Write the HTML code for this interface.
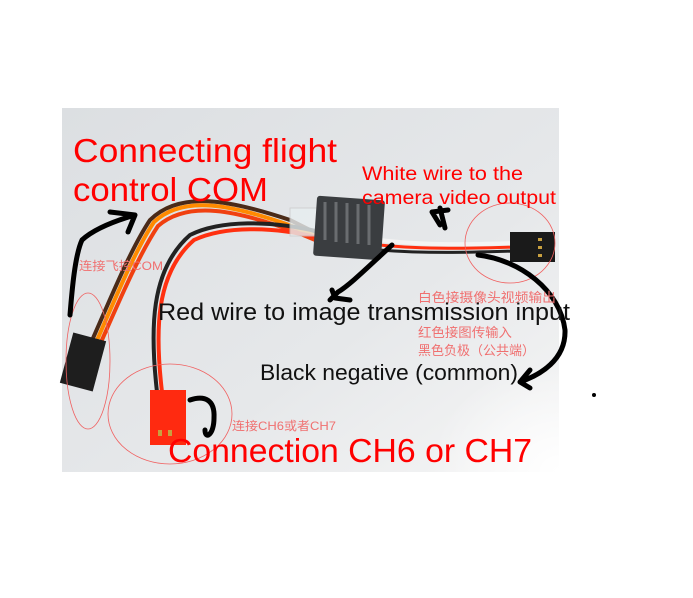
<!DOCTYPE html>
<html><head><meta charset="utf-8"><style>
html,body{margin:0;padding:0;background:#fff;width:693px;height:598px;overflow:hidden}
svg{display:block}
text{font-family:"Liberation Sans","Noto Sans CJK SC",sans-serif}
</style></head><body>
<svg width="693" height="598" viewBox="0 0 693 598" xmlns="http://www.w3.org/2000/svg">
<defs>
<linearGradient id="bg" x1="0" y1="0" x2="1" y2="1">
<stop offset="0" stop-color="#dcdfe2"/><stop offset="0.6" stop-color="#e6e8ea"/><stop offset="1" stop-color="#f6f6f6"/>
</linearGradient>
<radialGradient id="fade" cx="1" cy="1" r="0.5">
<stop offset="0" stop-color="#fff" stop-opacity="1"/><stop offset="1" stop-color="#fff" stop-opacity="0"/>
</radialGradient>
</defs>
<rect x="62" y="108" width="497" height="364" fill="url(#bg)"/>
<rect x="300" y="250" width="259" height="222" fill="url(#fade)"/>
<!-- wires -->
<path d="M90 345 C110 300 130 250 150 220 C180 190 230 200 290 220 L320 235" fill="none" stroke="#4a2a18" stroke-width="4"/>
<path d="M94 347 C114 302 134 252 154 222 C184 194 232 205 292 226 L320 238" fill="none" stroke="#ff8a00" stroke-width="4"/>
<path d="M98 349 C118 304 138 256 158 226 C188 200 236 210 296 232 L320 242" fill="none" stroke="#f04010" stroke-width="4"/>
<path d="M157 392 C150 330 150 270 190 235 C220 220 270 220 320 232" fill="none" stroke="#222" stroke-width="4"/>
<path d="M162 392 C155 332 155 274 194 240 C224 226 272 226 320 238" fill="none" stroke="#ff3010" stroke-width="4"/>
<path d="M380 240 C430 246 480 244 515 243" fill="none" stroke="#f4f4f4" stroke-width="4"/>
<path d="M380 245 C430 250 480 248 515 247" fill="none" stroke="#ff3010" stroke-width="3"/>
<path d="M380 250 C430 254 480 252 515 251" fill="none" stroke="#222" stroke-width="3"/>
<rect x="290" y="208" width="30" height="28" fill="#e8eef0" stroke="#ccc" opacity="0.8"/>
<!-- module -->
<rect x="315" y="198" width="68" height="60" rx="3" fill="#3a3d40" transform="rotate(4 349 228)"/>
<g stroke="#6a6d70" stroke-width="3">
<line x1="325" y1="202" x2="325" y2="240"/><line x1="336" y1="202" x2="336" y2="242"/><line x1="347" y1="203" x2="347" y2="243"/><line x1="358" y1="204" x2="358" y2="244"/><line x1="369" y1="205" x2="369" y2="245"/>
</g>
<!-- right connector -->
<rect x="510" y="232" width="45" height="30" fill="#1a1a1a"/>
<rect x="538" y="238" width="4" height="3" fill="#c8a040"/><rect x="538" y="246" width="4" height="3" fill="#c8a040"/><rect x="538" y="254" width="4" height="3" fill="#c8a040"/>
<!-- left black connector -->
<rect x="66" y="336" width="34" height="52" fill="#1e1e1e" transform="rotate(15 83 362)"/>
<!-- red connector -->
<rect x="150" y="390" width="36" height="55" fill="#ff2a10"/>
<rect x="158" y="430" width="4" height="6" fill="#c8a040"/><rect x="168" y="430" width="4" height="6" fill="#c8a040"/>
<!-- circles -->
<g fill="none" stroke="#f06060" stroke-width="0.8">
<ellipse cx="88" cy="361" rx="22" ry="68"/>
<ellipse cx="170" cy="414" rx="62" ry="50"/>
<ellipse cx="510" cy="243" rx="45" ry="40"/>
</g>
<!-- black arrows -->
<g fill="none" stroke="#000" stroke-width="5" stroke-linecap="round" stroke-linejoin="round">
<path d="M70 315 C72 290 75 255 82 240 C95 228 118 220 135 215 M135 215 L110 212 M135 215 L128 232"/>
<path d="M392 245 C370 265 350 285 338 292 L330 300 M332 290 L335 298 L350 300"/>
<path d="M440 225 L432 212 L448 210 M440 208 L445 228"/>
<path d="M478 255 C520 260 560 290 565 330 C566 360 540 375 520 382 L530 388 M520 382 L530 370"/>
<path d="M190 400 C205 395 215 400 214 418 C214 435 205 440 205 430"/>
</g>
<g lengthAdjust="spacingAndGlyphs">
<text x="73" y="162" font-size="33" fill="#f00" textLength="264" lengthAdjust="spacingAndGlyphs">Connecting flight</text>
<text x="73" y="201" font-size="33" fill="#f00" textLength="195" lengthAdjust="spacingAndGlyphs">control COM</text>
<text x="362" y="180" font-size="19" fill="#f00" textLength="161" lengthAdjust="spacingAndGlyphs">White wire to the</text>
<text x="362" y="204" font-size="19" fill="#f00" textLength="194" lengthAdjust="spacingAndGlyphs">camera video output</text>
<text x="79" y="270" font-size="12" fill="#f07070" textLength="84" lengthAdjust="spacingAndGlyphs">连接飞控COM</text>
<text x="418" y="302" font-size="13" fill="#f07070" textLength="138" lengthAdjust="spacingAndGlyphs">白色接摄像头视频输出</text>
<text x="158" y="320" font-size="24" fill="#111" textLength="412" lengthAdjust="spacingAndGlyphs">Red wire to image transmission input</text>
<text x="418" y="337" font-size="13" fill="#f07070" textLength="94" lengthAdjust="spacingAndGlyphs">红色接图传输入</text>
<text x="418" y="355" font-size="13" fill="#f07070" textLength="117" lengthAdjust="spacingAndGlyphs">黑色负极（公共端）</text>
<text x="260" y="380" font-size="22" fill="#111" textLength="258" lengthAdjust="spacingAndGlyphs">Black negative (common)</text>
<text x="232" y="430" font-size="12" fill="#f07070" textLength="104" lengthAdjust="spacingAndGlyphs">连接CH6或者CH7</text>
<text x="168" y="462" font-size="33" fill="#f00" textLength="364" lengthAdjust="spacingAndGlyphs">Connection CH6 or CH7</text>
</g>
<circle cx="594" cy="395" r="2" fill="#000"/>
</svg>
</body></html>
